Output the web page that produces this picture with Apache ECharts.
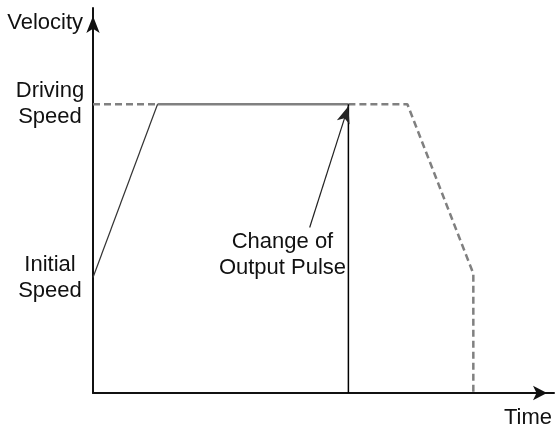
<!DOCTYPE html>
<html lang="en">

<head>
    <title>Velocity Profile</title>
    <meta charset="utf-8">
    <style>
        body {
            margin: 0;
            background-color: white;
        }
    </style>
</head>

<body>
    <div id="chart" style="width: 555px; height: 432px"></div>
    <script src="https://cdn.jsdelivr.net/npm/echarts@6/dist/echarts.min.js"></script>
    <script>
        var FONT = "'Liberation Sans', Arial, sans-serif";

        // speed levels (y) and the time marks (x), 0..100 scale
        var initialSpeed = 30;
        var drivingSpeed = 75;
        var stopSpeed = 31;
        var speedTicks = [initialSpeed, drivingSpeed];
        var speedNames = ["Initial\nSpeed", "Driving\nSpeed"];

        var accelEnd = 14;
        var changeTime = 55.4;
        var decelStart = 68.2;
        var stopTime = 82.5;

        var accelLine = [[0, initialSpeed], [accelEnd, drivingSpeed]];
        var plannedTop = [[0, drivingSpeed], [accelEnd, drivingSpeed]];
        var actualTop = [[accelEnd, drivingSpeed], [changeTime, drivingSpeed]];
        var plannedRest = [[changeTime, drivingSpeed], [decelStart, drivingSpeed], [stopTime, stopSpeed], [stopTime, 0]];
        var changeLine = [[changeTime, 0], [changeTime, drivingSpeed]];
        var pointerFrom = [47, 43];
        var pointerTo = [changeTime, 74.5];
        var noteAt = [41.1, 35.8];
        var noteText = "Change of\nOutput Pulse";

        var txt = { fontFamily: FONT, fontSize: 22, color: "#111" };

        var chart = echarts.init(document.getElementById("chart"));
        chart.setOption({
            animation: false,
            grid: { left: 93, right: 0, top: 8, bottom: 39 },
            xAxis: {
                type: "value",
                min: 0,
                max: 100,
                name: "Time",
                nameLocation: "end",
                nameGap: 0,
                nameTextStyle: Object.assign({ align: "right", verticalAlign: "top", padding: [14, 2, 0, 0] }, txt),
                axisLine: { lineStyle: { color: "#111", width: 2 }, symbol: ["none", "arrow"], symbolSize: [11, 14], symbolOffset: [0, -7] },
                axisTick: { show: false },
                axisLabel: { show: false },
                splitLine: { show: false }
            },
            yAxis: {
                type: "value",
                min: 0,
                max: 100,
                name: "Velocity",
                nameLocation: "end",
                nameGap: -15,
                nameTextStyle: Object.assign({ align: "right", verticalAlign: "middle", padding: [0, 10, 0, 0] }, txt),
                axisLine: { lineStyle: { color: "#111", width: 2 }, symbol: ["none", "arrow"], symbolSize: [10, 17], symbolOffset: [0, -8] },
                axisTick: { show: false },
                axisLabel: Object.assign({
                    customValues: speedTicks,
                    formatter: function (v) { return speedNames[speedTicks.indexOf(v)]; },
                    align: "center", margin: 43, lineHeight: 26
                }, txt),
                splitLine: { show: false }
            },
            series: [
                {
                    type: "line", data: plannedTop, symbol: "none",
                    lineStyle: { color: "#808080", width: 2.5, type: [7, 4] }
                },
                {
                    type: "line", data: plannedRest, symbol: "none",
                    lineStyle: { color: "#808080", width: 2.5, type: [7, 4] }
                },
                {
                    type: "line", data: actualTop, symbol: "none",
                    lineStyle: { color: "#808080", width: 2.5 }
                },
                {
                    type: "line", data: accelLine, symbol: "none",
                    lineStyle: { color: "#333", width: 1.2 }
                },
                {
                    type: "line", data: changeLine, symbol: "none",
                    lineStyle: { color: "#000", width: 1.5 }
                },
                {
                    type: "scatter", data: [noteAt], symbolSize: 0,
                    itemStyle: { opacity: 1 },
                    label: Object.assign({
                        show: true, position: "inside", formatter: noteText,
                        lineHeight: 26, align: "center", opacity: 1
                    }, txt),
                    markLine: {
                        silent: true,
                        symbol: ["none", "arrow"],
                        symbolSize: [10, 17],
                        label: { show: false },
                        lineStyle: { color: "#222", width: 1.2, type: "solid" },
                        data: [[{ coord: pointerFrom }, { coord: pointerTo }]]
                    }
                }
            ]
        });
    </script>
</body>

</html>
